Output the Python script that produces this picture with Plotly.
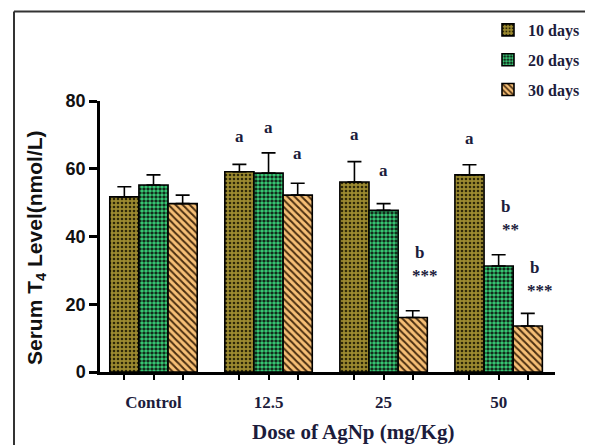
import plotly.graph_objects as go

categories = ["Control", "12.5", "25", "50"]
series_names = ["10 days", "20 days", "30 days"]
values_10 = [51.7, 59.1, 56.1, 58.2]
values_20 = [55.2, 58.7, 47.7, 31.3]
values_30 = [49.7, 52.2, 16.1, 13.6]
err_10 = [3.0, 2.2, 6.0, 3.0]
err_20 = [3.0, 6.0, 2.0, 3.3]
err_30 = [2.5, 3.5, 2.0, 3.7]

# significance labels: category index, series index, text, y value, vertical anchor
sig_groups = [1, 1, 1, 2, 2, 2, 2, 3, 3, 3, 3, 3]
sig_series = [0, 1, 2, 0, 1, 2, 2, 0, 1, 1, 2, 2]
sig_texts = ["a", "a", "a", "a", "a", "b", "***", "a", "b", "**", "b", "***"]
sig_y = [69.4, 72.3, 64.6, 70.0, 59.6, 31.8, 31.8, 68.8, 45.4, 45.4, 27.6, 27.6]
sig_anchor = ["middle", "middle", "middle", "middle", "middle", "bottom", "top",
              "middle", "bottom", "top", "bottom", "top"]

y_ticks = [0, 20, 40, 60, 80]

values = [values_10, values_20, values_30]
errors = [err_10, err_20, err_30]
patterns = [
    dict(shape=".", bgcolor="#9c8a30", fgcolor="#2e2808", size=4, solidity=0.35, fillmode="replace"),
    dict(shape=".", bgcolor="#0c140e", fgcolor="#36c472", size=4, solidity=0.65, fillmode="replace"),
    dict(shape="\\", bgcolor="#f6bf76", fgcolor="#4a2e10", size=5, solidity=0.4, fillmode="replace"),
]

BARGAP = 0.24
bar_w = (1 - BARGAP) / 3
x_range = [-0.465, 3.49]

OFF = 8  # page body margin
W, H = 593, 445
L, T = 100 - OFF, 101 - OFF
R = W - (555 - OFF)
B = H - (372 - OFF)
PW, PH = W - L - R, H - T - B


def px_x(px):
    return (px - OFF - L) / PW


def px_y(py):
    return (H - B - (py - OFF)) / PH


fig = go.Figure()
for i, name in enumerate(series_names):
    fig.add_trace(go.Bar(
        x=categories, y=values[i], name=name,
        legendgroup=name,
        marker=dict(pattern=patterns[i], line=dict(color="#000000", width=1.6)),
        error_y=dict(type="data", array=errors[i], arrayminus=[0] * len(categories),
                     symmetric=False, color="#000000", thickness=1.6, width=7),
    ))

navy = "#1c1c3c"
annotations = []
for g, s, t, yv, anc in zip(sig_groups, sig_series, sig_texts, sig_y, sig_anchor):
    xs = 0
    if t == "b":
        xs = 7
    elif "*" in t:
        xs = 12
    annotations.append(dict(
        x=g + (s - 1) * bar_w, y=yv, xref="x2", yref="y", text=t, showarrow=False,
        xshift=xs, yanchor=anc,
        font=dict(family="Liberation Serif", size=17, color=navy, weight="bold"),
    ))
annotations.append(dict(
    x=px_x(353), y=px_y(432), xref="paper", yref="paper", text="Dose of AgNp (mg/Kg)",
    showarrow=False, xanchor="center", yanchor="middle",
    font=dict(family="Liberation Serif", size=21, color=navy, weight="bold"),
))
annotations.append(dict(
    x=px_x(36), y=px_y(248), xref="paper", yref="paper",
    text="Serum T<sub>4</sub> Level(nmol/L)", textangle=-90,
    showarrow=False, xanchor="center", yanchor="middle",
    font=dict(family="Liberation Sans", size=21, color="#111111", weight="bold"),
))

fig.update_layout(
    width=W, height=H,
    margin=dict(l=L, r=R, t=T, b=B, autoexpand=False),
    paper_bgcolor="white", plot_bgcolor="white",
    barmode="group", bargap=BARGAP, bargroupgap=0,
    showlegend=True,
    legend=dict(x=px_x(488), y=px_y(13), xanchor="left", yanchor="top",
                font=dict(family="Liberation Serif", size=16, color=navy, weight="bold"),
                tracegroupgap=6, bgcolor="rgba(0,0,0,0)"),
    xaxis=dict(type="category", range=x_range, showline=True, linecolor="#000000", linewidth=2.5,
               ticks="", showgrid=False, zeroline=False, automargin=False,
               tickfont=dict(family="Liberation Serif", size=17, color=navy, weight="bold"),
               ticklabelstandoff=13),
    xaxis2=dict(overlaying="x", anchor="y", range=x_range, showline=False, showgrid=False,
                zeroline=False, showticklabels=False, ticks="outside", ticklen=7, tickwidth=2,
                tickcolor="#000000",
                tickvals=[c + (s - 1) * bar_w for c in range(len(categories)) for s in range(3)]),
    yaxis=dict(range=[0, 80], tickvals=y_ticks, showline=True, linecolor="#000000", linewidth=2.5,
               ticks="outside", ticklen=8, tickwidth=2.5, tickcolor="#000000", showgrid=False,
               zeroline=False, automargin=False,
               tickfont=dict(family="Liberation Sans", size=18, color="#111111", weight="bold")),
    annotations=annotations,
    shapes=[
        dict(type="line", xref="paper", yref="paper", x0=px_x(14), x1=px_x(640),
             y0=px_y(11.5), y1=px_y(11.5), line=dict(color="#333333", width=2)),
        dict(type="line", xref="paper", yref="paper", x0=px_x(14), x1=px_x(14),
             y0=px_y(11.5), y1=px_y(480), line=dict(color="#333333", width=2)),
    ],
)

fig.write_html("out.html")
